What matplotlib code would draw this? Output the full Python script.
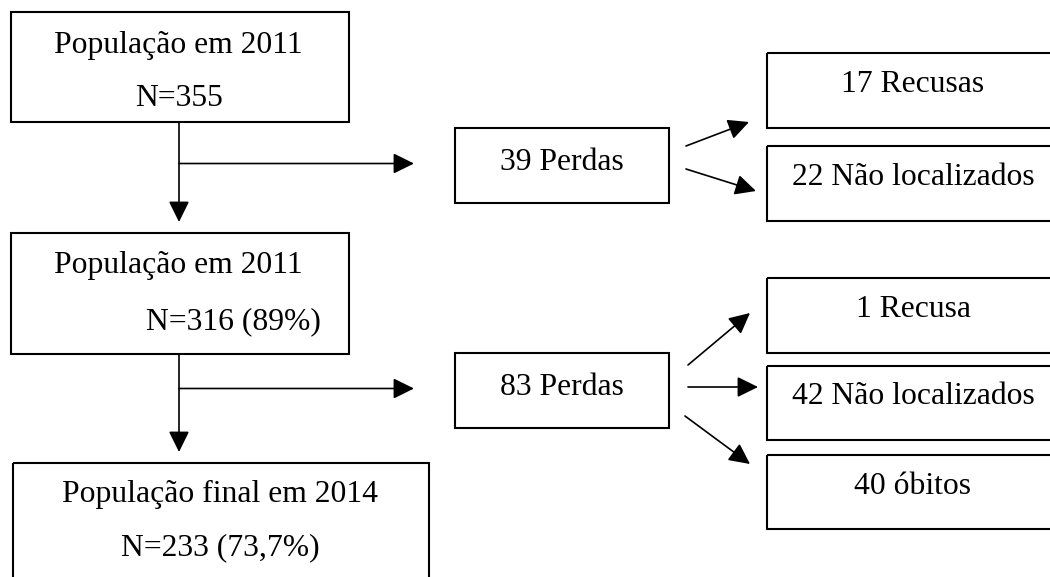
import matplotlib
matplotlib.use('Agg')
import matplotlib.pyplot as plt
from matplotlib.patches import Rectangle

plt.rcParams['font.family'] = ['Liberation Serif', 'DejaVu Serif']

############################ DATA #########################################
pop_labels = ['População em 2011\nN=355',
              'População em 2011\nN=316 (89%)',
              'População final em 2014\nN=233 (73,7%)']
loss_labels = ['39 Perdas', '83 Perdas']
reasons_2011 = ['17 Recusas', '22 Não localizados']
reasons_2014 = ['1 Recusa', '42 Não localizados', '40 óbitos']
############################ DATA #########################################

# layout in pixels: (x0, y0, x1, y1)
pop_boxes = [(11, 12, 349, 122), (11, 233, 349, 354), (13, 463, 429, 600)]
pop_lines = [[(178, 45), (179, 98)], [(178, 265), (233, 322)], [(220, 494), (220, 548)]]
loss_boxes = [(455, 128, 669, 203), (455, 353, 669, 428)]
reason_boxes = [[(767, 53, 1070, 128), (767, 146, 1070, 221)],
                [(767, 278, 1070, 353), (767, 366, 1070, 440), (767, 455, 1070, 529)]]
reason_arrows = [[((686, 146), (749, 122)), ((686, 169), (756, 191))],
                 [((688, 365), (750, 313)), ((688, 387), (758, 387)), ((685, 416), (750, 464))]]

fs = 22.8
lw_box = 1.5
lw_arr = 1.2

fig = plt.figure(figsize=(10.5, 5.77), dpi=100)
ax = fig.add_axes([0, 0, 1, 1])
ax.set_xlim(0, 1050)
ax.set_ylim(577, 0)
ax.axis('off')


def box(b):
    x0, y0, x1, y1 = b
    ax.add_patch(Rectangle((x0, y0), x1 - x0, y1 - y0, fill=False,
                           edgecolor='black', linewidth=lw_box))


def arrow(p0, p1):
    ax.annotate('', xy=p1, xytext=p0,
                arrowprops=dict(arrowstyle='-|>,head_length=0.85,head_width=0.42',
                                mutation_scale=15, color='black', lw=lw_arr,
                                shrinkA=0, shrinkB=0))


# population boxes
for b, label, lines in zip(pop_boxes, pop_labels, pop_lines):
    box(b)
    for txt, (x, y) in zip(label.split('\n'), lines):
        ax.text(x, y, txt, ha='center', va='center', fontsize=fs)

# vertical arrows and branches to the loss boxes
for i in range(2):
    x = 179
    y_top = pop_boxes[i][3]
    y_bot = pop_boxes[i + 1][1] - 11
    arrow((x, y_top), (x, y_bot))
    y_branch = (loss_boxes[i][1] + loss_boxes[i][3]) / 2 - 2
    arrow((x, y_branch), (414, y_branch))

# loss boxes
for b, label in zip(loss_boxes, loss_labels):
    box(b)
    ax.text((b[0] + b[2]) / 2, (b[1] + b[3]) / 2 - 3, label,
            ha='center', va='center', fontsize=fs)

# reasons
for boxes, labels, arrs in zip(reason_boxes, [reasons_2011, reasons_2014], reason_arrows):
    for b, label in zip(boxes, labels):
        box(b)
        ax.text(913, (b[1] + b[3]) / 2 - 6, label, ha='center', va='center', fontsize=fs)
    for p0, p1 in arrs:
        arrow(p0, p1)

fig.savefig('out.png', dpi=100)
